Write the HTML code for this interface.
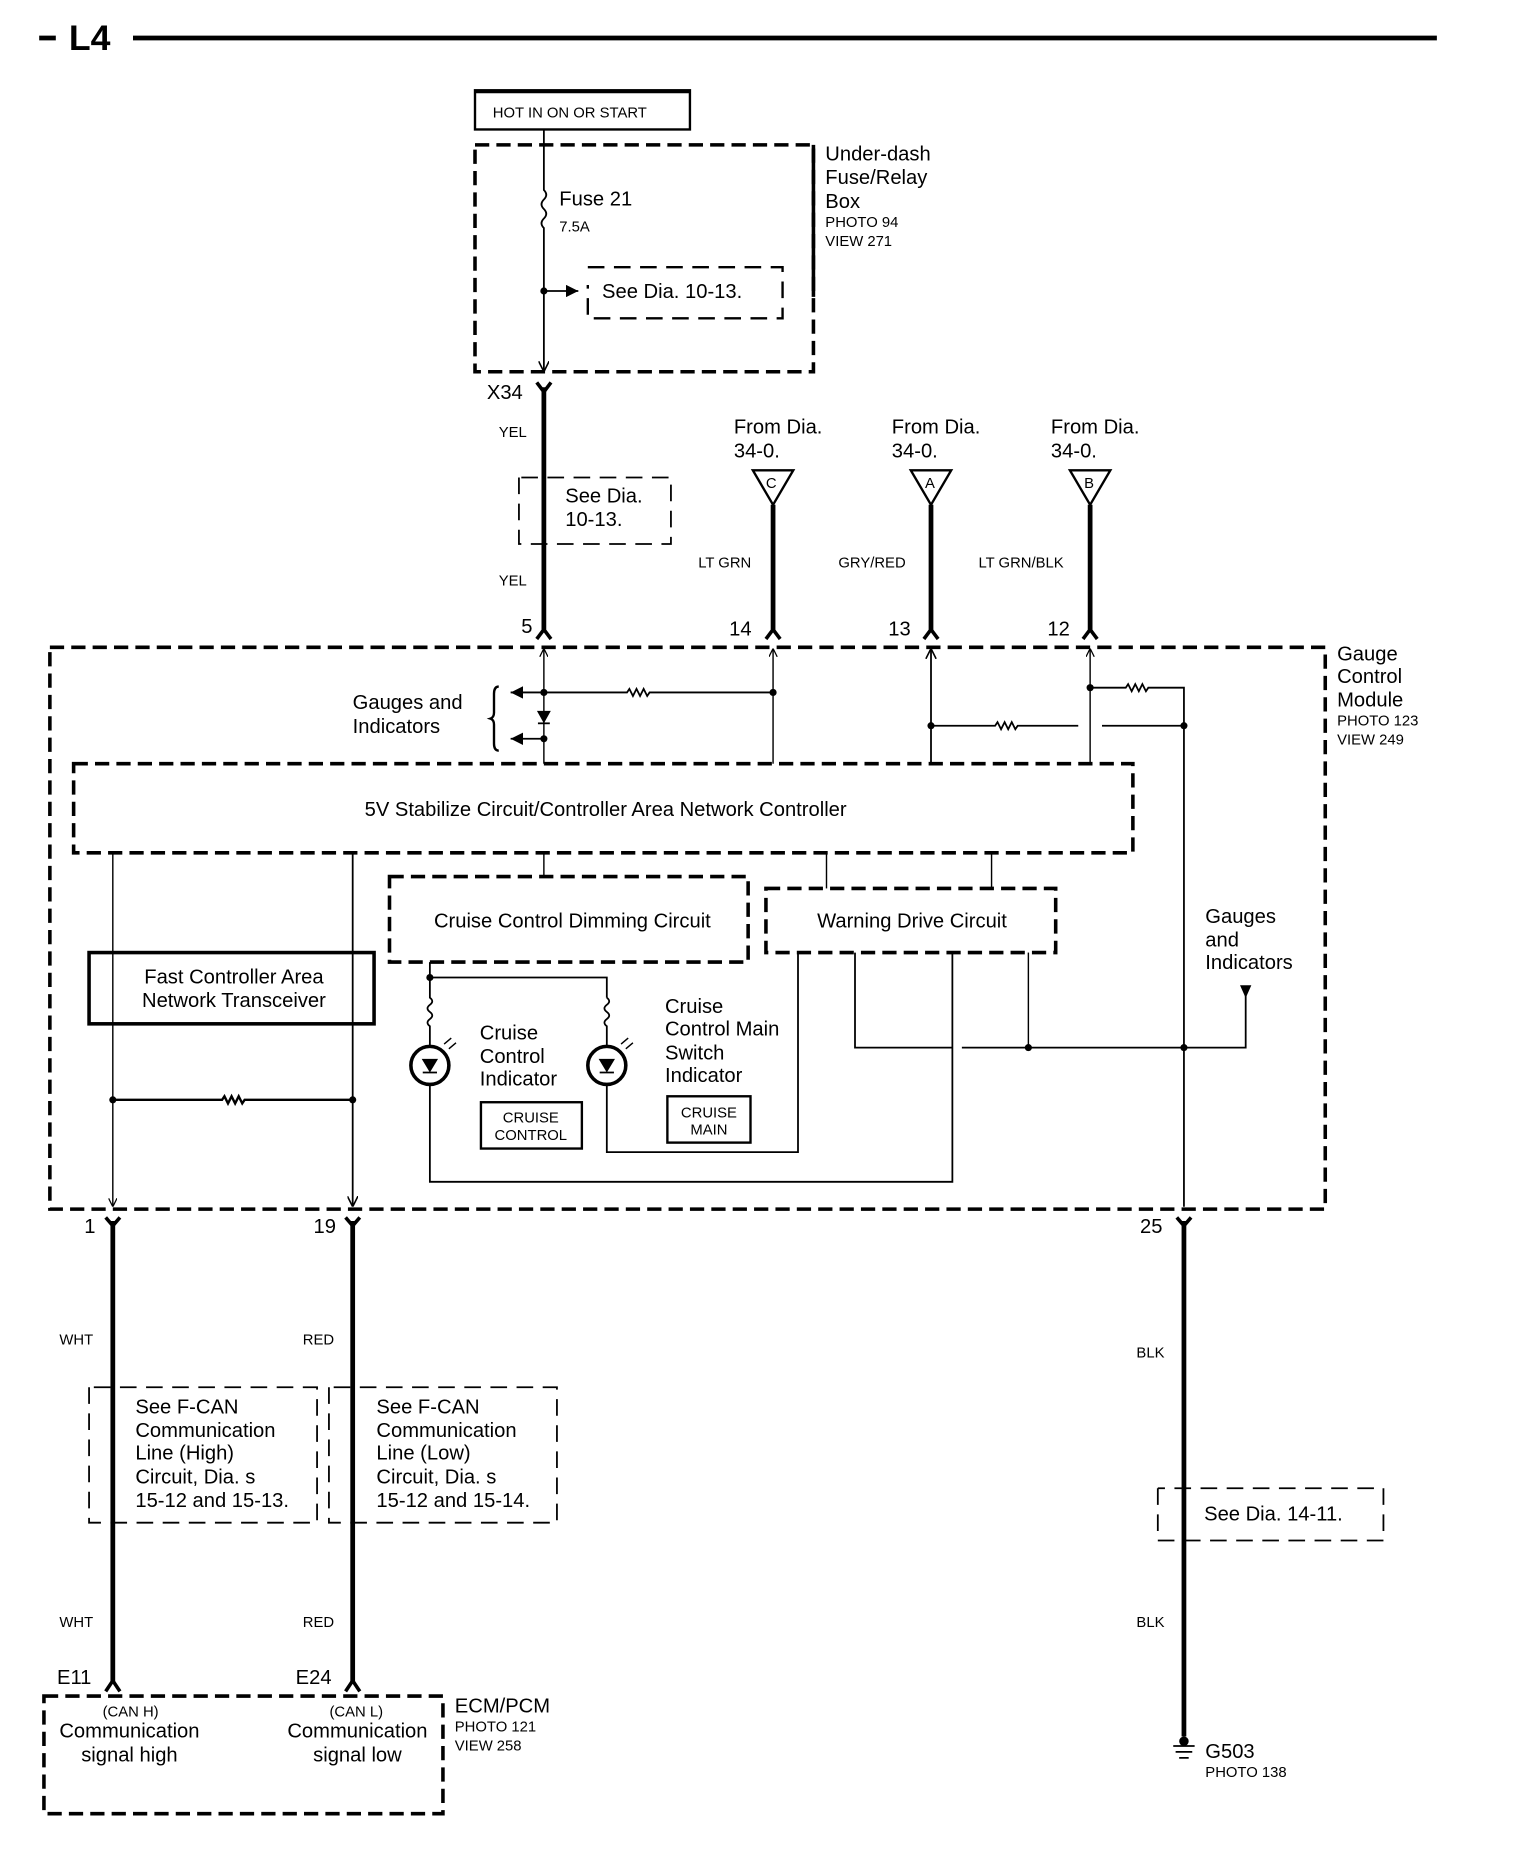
<!DOCTYPE html>
<html><head><meta charset="utf-8"><style>
html,body{margin:0;padding:0;background:#fff;}
svg{display:block;}
text{font-family:"Liberation Sans",sans-serif;fill:#000;}
.l{font-size:17px;}
.s{font-size:12.5px;}
.m{font-size:15px;}
</style></head><body>
<svg width="1520" height="1860" viewBox="0 0 1280 1566" preserveAspectRatio="none" xmlns="http://www.w3.org/2000/svg">
<defs>
<marker id="ad" viewBox="0 0 10 10" refX="10" refY="5" markerWidth="6" markerHeight="6" orient="auto"><path d="M0,0 L10,5 L0,10" fill="none" stroke="#000" stroke-width="1.5"/></marker>
<marker id="af" viewBox="0 0 10 10" refX="10" refY="5" markerWidth="7" markerHeight="7" orient="auto"><path d="M0,0 L10,5 L0,10z" fill="#000"/></marker>
</defs>
<g stroke="#000" fill="none">
<line x1="33" y1="32" x2="47" y2="32" stroke-width="4"/>
<line x1="112" y1="32" x2="1210" y2="32" stroke-width="4"/>
<rect x="400" y="76" width="181" height="33" stroke-width="2"/>
<line x1="400" y1="77" x2="581" y2="77" stroke-width="3"/>
<rect x="400" y="122" width="285" height="191" stroke-width="3" stroke-dasharray="12,6"/>
<line x1="685" y1="122" x2="685" y2="250" stroke-width="3"/>
<path d="M458 109 V160 q4 4 0 8 q-4 4 0 8 q4 4 0 8 q-4 4 0 8 V313" stroke-width="1.5" marker-end="url(#ad)"/>
<line x1="458" y1="245" x2="487" y2="245" stroke-width="1.5" marker-end="url(#af)"/>
<path d="M495 225 H659 V268 H495 V240" stroke-width="2" stroke-dasharray="14,8"/>
<path d="M452 322 L458 330 L464 322" stroke-width="3"/>
<line x1="458" y1="326" x2="458" y2="530" stroke-width="4"/>
<path d="M452 538 L458 530 L464 538" stroke-width="3"/>
<path d="M437 402 V458 H565 V402 H437" stroke-width="1.5" stroke-dasharray="14,8"/>
<path d="M634 396 H668 L651 425 Z M767 396 H801 L784 425 Z M901 396 H935 L918 425 Z" stroke-width="2"/>
<line x1="651" y1="425" x2="651" y2="530" stroke-width="4"/>
<line x1="784" y1="425" x2="784" y2="530" stroke-width="4"/>
<line x1="918" y1="425" x2="918" y2="530" stroke-width="4"/>
<path d="M645 538 L651 530 L657 538 M778 538 L784 530 L790 538 M912 538 L918 530 L924 538" stroke-width="3"/>
<rect x="42" y="545" width="1074" height="473" stroke-width="3" stroke-dasharray="12,6"/>
<line x1="458" y1="643" x2="458" y2="546" stroke-width="1.2" marker-end="url(#ad)"/>
<line x1="651" y1="643" x2="651" y2="546" stroke-width="1.2" marker-end="url(#ad)"/>
<line x1="784" y1="643" x2="784" y2="546" stroke-width="1.5" marker-end="url(#ad)"/>
<line x1="918" y1="643" x2="918" y2="546" stroke-width="1.2" marker-end="url(#ad)"/>
<path d="M458 583 H528 l2 -3 l3 6 l3 -6 l3 6 l3 -6 l3 6 l2 -3 H651" stroke-width="1.5"/>
<line x1="458" y1="583" x2="430" y2="583" stroke-width="1.5" marker-end="url(#af)"/>
<line x1="458" y1="622" x2="430" y2="622" stroke-width="1.5" marker-end="url(#af)"/>
<path d="M453 599 H463 L458 608 Z" fill="#000" stroke-width="1"/>
<line x1="453" y1="609" x2="463" y2="609" stroke-width="1.5"/>
<path d="M420 578 q-4 0 -4 6 v16 q0 4 -3 5 q3 1 3 5 v16 q0 6 4 6" stroke-width="2"/>
<path d="M784 611 H838 l2 -3 l3 6 l3 -6 l3 6 l3 -6 l3 6 l2 -3 H908 M928 611 H997" stroke-width="1.5"/>
<path d="M918 579 H948 l2 -3 l3 6 l3 -6 l3 6 l3 -6 l3 6 l2 -3 H997 V1016" stroke-width="1.5"/>
<rect x="62" y="643" width="892" height="75" stroke-width="3" stroke-dasharray="12,6"/>
<line x1="95" y1="718" x2="95" y2="1016" stroke-width="1.2" marker-end="url(#ad)"/>
<line x1="297" y1="718" x2="297" y2="1016" stroke-width="1.5" marker-end="url(#ad)"/>
<line x1="458" y1="718" x2="458" y2="738" stroke-width="1.2"/>
<line x1="696" y1="718" x2="696" y2="748" stroke-width="1.2"/>
<line x1="835" y1="718" x2="835" y2="748" stroke-width="1.2"/>
<rect x="328" y="738" width="302" height="72" stroke-width="3" stroke-dasharray="12,6"/>
<rect x="645" y="748" width="244" height="54" stroke-width="3" stroke-dasharray="12,6"/>
<rect x="75" y="802" width="240" height="60" stroke-width="3"/>
<path d="M95 926 H187 l2 -3 l3 6 l3 -6 l3 6 l3 -6 l3 6 l2 -3 H297" stroke-width="2"/>
<path d="M362 810 V823 H511 V840" stroke-width="1.5"/>
<path d="M362 823 V840 q4 3 0 6 q-4 3 0 6 q4 3 0 6 q-4 3 0 6 V881 M362 913 V995 H802 V802" stroke-width="1.5"/>
<path d="M511 840 q4 3 0 6 q-4 3 0 6 q4 3 0 6 q-4 3 0 6 V881 M511 913 V970 H672 V802" stroke-width="1.5"/>
<circle cx="362" cy="897" r="16" stroke-width="3"/>
<circle cx="511" cy="897" r="16" stroke-width="3"/>
<path d="M356 892 H368 L362 902 Z M505 892 H517 L511 902 Z" fill="#000" stroke-width="1"/>
<path d="M356 903 H368 M505 903 H517" stroke-width="1.5"/>
<path d="M374 879 l6 -5 M378 883 l6 -5 M523 879 l6 -5 M527 883 l6 -5" stroke-width="1.2"/>
<rect x="405" y="928" width="85" height="39" stroke-width="2"/>
<rect x="562" y="923" width="70" height="39" stroke-width="2"/>
<path d="M720 802 V882 H802 M810 882 H1049 V832" stroke-width="1.5"/>
<path d="M866 802 V882" stroke-width="1.2"/>
<path d="M1045 830 H1053 L1049 839 Z" fill="#000" stroke-width="1"/>
<path d="M89 1025 L95 1032 L101 1025 M291 1025 L297 1032 L303 1025 M991 1025 L997 1032 L1003 1025" stroke-width="3"/>
<line x1="95" y1="1028" x2="95" y2="1416" stroke-width="4"/>
<line x1="297" y1="1028" x2="297" y2="1416" stroke-width="4"/>
<line x1="997" y1="1028" x2="997" y2="1462" stroke-width="4"/>
<path d="M89 1424 L95 1415 L101 1424 M291 1424 L297 1415 L303 1424" stroke-width="3"/>
<path d="M75 1168 V1282 H267 V1168 H75" stroke-width="1.5" stroke-dasharray="14,8"/>
<path d="M277 1168 V1282 H469 V1168 H277" stroke-width="1.5" stroke-dasharray="14,8"/>
<path d="M975 1253 V1297 H1165 V1253 H975" stroke-width="1.5" stroke-dasharray="14,8"/>
<rect x="37" y="1428" width="336" height="99" stroke-width="3" stroke-dasharray="12,6"/>
<path d="M988 1470 H1006 M990 1475 H1004 M993 1480 H1001" stroke-width="1.5"/>
</g>
<g fill="#000">
<circle cx="458" cy="583" r="3"/><circle cx="651" cy="583" r="3"/><circle cx="458" cy="622" r="3"/>
<circle cx="784" cy="611" r="3"/><circle cx="918" cy="579" r="3"/><circle cx="997" cy="611" r="3"/>
<circle cx="95" cy="926" r="3"/><circle cx="297" cy="926" r="3"/><circle cx="362" cy="823" r="3"/>
<circle cx="866" cy="882" r="3"/><circle cx="997" cy="882" r="3"/><circle cx="458" cy="245" r="3"/>
<circle cx="997" cy="1466" r="4"/>
</g>
<text x="58" y="42" style="font-size:30px;font-weight:bold">L4</text>
<text x="415" y="99" class="s">HOT IN ON OR START</text>
<text x="471" y="173" class="l">Fuse 21</text>
<text x="471" y="195" class="s">7.5A</text>
<text x="507" y="251" class="l">See Dia. 10-13.</text>
<text x="695" y="135" class="l">Under-dash</text>
<text x="695" y="155" class="l">Fuse/Relay</text>
<text x="695" y="175" class="l">Box</text>
<text x="695" y="191" class="s">PHOTO 94</text>
<text x="695" y="207" class="s">VIEW 271</text>
<text x="410" y="336" class="l">X34</text>
<text x="420" y="368" class="s">YEL</text>
<text x="420" y="493" class="s">YEL</text>
<text x="476" y="423" class="l">See Dia.</text>
<text x="476" y="443" class="l">10-13.</text>
<text x="618" y="365" class="l">From Dia.</text><text x="618" y="385" class="l">34-0.</text>
<text x="751" y="365" class="l">From Dia.</text><text x="751" y="385" class="l">34-0.</text>
<text x="885" y="365" class="l">From Dia.</text><text x="885" y="385" class="l">34-0.</text>
<text x="645" y="411" class="s">C</text><text x="779" y="411" class="s">A</text><text x="913" y="411" class="s">B</text>
<text x="588" y="478" class="s">LT GRN</text>
<text x="706" y="478" class="s">GRY/RED</text>
<text x="824" y="478" class="s">LT GRN/BLK</text>
<text x="439" y="533" class="l">5</text>
<text x="614" y="535" class="l">14</text>
<text x="748" y="535" class="l">13</text>
<text x="882" y="535" class="l">12</text>
<text x="1126" y="556" class="l">Gauge</text>
<text x="1126" y="575" class="l">Control</text>
<text x="1126" y="595" class="l">Module</text>
<text x="1126" y="611" class="s">PHOTO 123</text>
<text x="1126" y="627" class="s">VIEW 249</text>
<text x="297" y="597" class="l">Gauges and</text>
<text x="297" y="617" class="l">Indicators</text>
<text x="510" y="687" class="l" text-anchor="middle">5V Stabilize Circuit/Controller Area Network Controller</text>
<text x="482" y="781" class="l" text-anchor="middle">Cruise Control Dimming Circuit</text>
<text x="768" y="781" class="l" text-anchor="middle">Warning Drive Circuit</text>
<text x="197" y="828" class="l" text-anchor="middle">Fast Controller Area</text>
<text x="197" y="848" class="l" text-anchor="middle">Network Transceiver</text>
<text x="1015" y="777" class="l">Gauges</text>
<text x="1015" y="797" class="l">and</text>
<text x="1015" y="816" class="l">Indicators</text>
<text x="404" y="875" class="l">Cruise</text>
<text x="404" y="895" class="l">Control</text>
<text x="404" y="914" class="l">Indicator</text>
<text x="560" y="853" class="l">Cruise</text>
<text x="560" y="872" class="l">Control Main</text>
<text x="560" y="892" class="l">Switch</text>
<text x="560" y="911" class="l">Indicator</text>
<text x="447" y="945" class="s" text-anchor="middle">CRUISE</text>
<text x="447" y="960" class="s" text-anchor="middle">CONTROL</text>
<text x="597" y="941" class="s" text-anchor="middle">CRUISE</text>
<text x="597" y="955" class="s" text-anchor="middle">MAIN</text>
<text x="71" y="1038" class="l">1</text>
<text x="264" y="1038" class="l">19</text>
<text x="960" y="1038" class="l">25</text>
<text x="50" y="1132" class="s">WHT</text>
<text x="255" y="1132" class="s">RED</text>
<text x="957" y="1143" class="s">BLK</text>
<text x="50" y="1370" class="s">WHT</text>
<text x="255" y="1370" class="s">RED</text>
<text x="957" y="1370" class="s">BLK</text>
<text x="114" y="1190" class="l">See F-CAN</text>
<text x="114" y="1210" class="l">Communication</text>
<text x="114" y="1229" class="l">Line (High)</text>
<text x="114" y="1249" class="l">Circuit, Dia. s</text>
<text x="114" y="1269" class="l">15-12 and 15-13.</text>
<text x="317" y="1190" class="l">See F-CAN</text>
<text x="317" y="1210" class="l">Communication</text>
<text x="317" y="1229" class="l">Line (Low)</text>
<text x="317" y="1249" class="l">Circuit, Dia. s</text>
<text x="317" y="1269" class="l">15-12 and 15-14.</text>
<text x="1014" y="1280" class="l">See Dia. 14-11.</text>
<text x="48" y="1418" class="l">E11</text>
<text x="249" y="1418" class="l">E24</text>
<text x="110" y="1445" class="s" text-anchor="middle">(CAN H)</text>
<text x="300" y="1445" class="s" text-anchor="middle">(CAN L)</text>
<text x="109" y="1463" class="l" text-anchor="middle">Communication</text>
<text x="109" y="1483" class="l" text-anchor="middle">signal high</text>
<text x="301" y="1463" class="l" text-anchor="middle">Communication</text>
<text x="301" y="1483" class="l" text-anchor="middle">signal low</text>
<text x="383" y="1442" class="l">ECM/PCM</text>
<text x="383" y="1458" class="s">PHOTO 121</text>
<text x="383" y="1474" class="s">VIEW 258</text>
<text x="1015" y="1480" class="l">G503</text>
<text x="1015" y="1496" class="s">PHOTO 138</text>
</svg>
</body></html>
